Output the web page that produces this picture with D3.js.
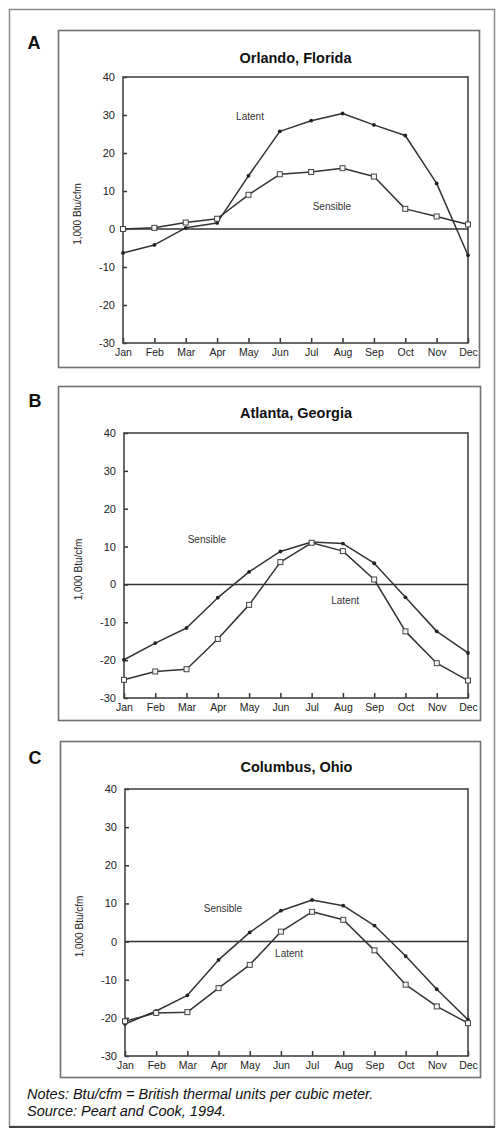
<!DOCTYPE html>
<html>
<head>
<meta charset="utf-8">
<script src="https://cdn.jsdelivr.net/npm/d3@7"></script>
<style>
  html, body { margin: 0; padding: 0; background: #fff; }
  svg { display: block; font-family: "Liberation Sans", Arial, Helvetica, sans-serif; }
</style>
</head>
<body>
<svg id="chart" width="500" height="1130"></svg>
<script>
// ---- Data ----
const months = ["Jan","Feb","Mar","Apr","May","Jun","Jul","Aug","Sep","Oct","Nov","Dec"];
const yTicks = [-30, -20, -10, 0, 10, 20, 30, 40];

const orlandoLatent   = [-6.3, -4.2, 0.3, 1.6, 14.0, 25.7, 28.5, 30.4, 27.4, 24.6, 12.0, -6.9];
const orlandoSensible = [0.0, 0.3, 1.7, 2.7, 9.0, 14.4, 15.0, 16.0, 13.8, 5.3, 3.3, 1.2];

const atlantaSensible = [-19.9, -15.5, -11.5, -3.5, 3.3, 8.7, 11.2, 10.8, 5.6, -3.4, -12.4, -18.1];
const atlantaLatent   = [-25.2, -23.0, -22.4, -14.4, -5.4, 5.9, 11.0, 8.8, 1.3, -12.4, -20.8, -25.4];

const columbusSensible = [-21.6, -18.2, -14.1, -4.8, 2.4, 8.1, 10.9, 9.4, 4.2, -3.8, -12.5, -20.5];
const columbusLatent   = [-20.9, -18.7, -18.5, -12.2, -6.1, 2.6, 7.8, 5.7, -2.3, -11.3, -17.0, -21.4];

const panelLetters = ["A", "B", "C"];
const panelTitles = ["Orlando, Florida", "Atlanta, Georgia", "Columbus, Ohio"];
const yAxisTitle = "1,000 Btu/cfm";
const notesText = "Notes: Btu/cfm = British thermal units per cubic meter.";
const sourceText = "Source: Peart and Cook, 1994.";

// ---- Layout ----
const panels = [
  { box: [58, 30, 479, 367], plot: [123, 77, 468, 343], titleY: 58, letter: [34, 43],
    series: [
      { name: "Latent", values: orlandoLatent, marker: "dot", label: [4.05, 29.7] },
      { name: "Sensible", values: orlandoSensible, marker: "square", label: [6.66, 6.0] }
    ] },
  { box: [58, 386, 480, 720], plot: [124, 433, 468, 698], titleY: 413, letter: [35, 401],
    series: [
      { name: "Sensible", values: atlantaSensible, marker: "dot", label: [2.65, 11.8] },
      { name: "Latent", values: atlantaLatent, marker: "square", label: [7.07, -4.3] }
    ] },
  { box: [60, 741, 480, 1077], plot: [125, 789, 468, 1056], titleY: 767, letter: [35, 758],
    series: [
      { name: "Sensible", values: columbusSensible, marker: "dot", label: [3.14, 8.6] },
      { name: "Latent", values: columbusLatent, marker: "square", label: [5.26, -3.0] }
    ] }
];

const svg = d3.select("#chart");

// outer frame
svg.append("rect").attr("x", 9.5).attr("y", 9.5).attr("width", 485).attr("height", 1117)
  .attr("fill", "none").attr("stroke", "#8a8a8a").attr("stroke-width", 1.5);
svg.append("line").attr("x1", 9).attr("x2", 495).attr("y1", 1127).attr("y2", 1127)
  .attr("stroke", "#444").attr("stroke-width", 2);

panels.forEach((p, pi) => {
  const [bx0, by0, bx1, by1] = p.box;
  const [px0, py0, px1, py1] = p.plot;

  svg.append("rect").attr("x", bx0 + 0.5).attr("y", by0 + 0.5)
    .attr("width", bx1 - bx0).attr("height", by1 - by0)
    .attr("fill", "none").attr("stroke", "#707070").attr("stroke-width", 1.6);

  svg.append("text").attr("x", p.letter[0]).attr("y", p.letter[1])
    .attr("text-anchor", "middle").attr("dy", "0.36em")
    .attr("font-size", 18).attr("font-weight", "bold").attr("fill", "#111")
    .text(panelLetters[pi]);

  const x = d3.scalePoint().domain(months).range([px0, px1]);
  const xi = d3.scaleLinear().domain([0, months.length - 1]).range([px0, px1]);
  const y = d3.scaleLinear().domain([-30, 40]).range([py1, py0]);

  svg.append("text").attr("x", (px0 + px1) / 2).attr("y", p.titleY)
    .attr("text-anchor", "middle").attr("dy", "0.36em")
    .attr("font-size", 14.5).attr("font-weight", "bold").attr("fill", "#111")
    .text(panelTitles[pi]);

  // y axis
  const gy = svg.append("g").attr("transform", `translate(${px0},0)`)
    .call(d3.axisLeft(y).tickValues(yTicks).tickSizeInner(-4).tickSizeOuter(0).tickPadding(8)
      .tickFormat(d => String(d)));
  gy.select(".domain").remove();
  gy.selectAll("line").attr("stroke", "#333").attr("stroke-width", 1.5);
  gy.selectAll("text").attr("font-size", 11).attr("fill", "#222")
    .attr("font-family", "'Liberation Sans', Arial, sans-serif");

  // x axis
  const gx = svg.append("g").attr("transform", `translate(0,${py1})`)
    .call(d3.axisBottom(x).tickSizeInner(-5).tickSizeOuter(0).tickPadding(6));
  gx.select(".domain").remove();
  gx.selectAll("line").attr("stroke", "#333").attr("stroke-width", 1.5);
  gx.selectAll("text").attr("font-size", 10.5).attr("fill", "#222")
    .attr("font-family", "'Liberation Sans', Arial, sans-serif");

  // plot frame
  svg.append("rect").attr("x", px0).attr("y", py0).attr("width", px1 - px0).attr("height", py1 - py0)
    .attr("fill", "none").attr("stroke", "#444").attr("stroke-width", 1.6);

  // zero line
  svg.append("line").attr("x1", px0).attr("x2", px1).attr("y1", y(0)).attr("y2", y(0))
    .attr("stroke", "#333").attr("stroke-width", 1.4);

  // y axis title
  svg.append("text")
    .attr("transform", `translate(${px0 - 46},${(py0 + py1) / 2 + 4}) rotate(-90)`)
    .attr("text-anchor", "middle").attr("dy", "0.35em")
    .attr("font-size", 10).attr("fill", "#222")
    .text(yAxisTitle);

  const line = d3.line().x((d, i) => x(months[i])).y(d => y(d));

  p.series.forEach(s => {
    svg.append("path").datum(s.values).attr("d", line)
      .attr("fill", "none").attr("stroke", "#333").attr("stroke-width", 1.5)
      .attr("stroke-linejoin", "round");
    if (s.marker === "dot") {
      svg.append("g").selectAll("circle").data(s.values).join("circle")
        .attr("cx", (d, i) => x(months[i])).attr("cy", d => y(d)).attr("r", 1.9)
        .attr("fill", "#222");
    } else {
      svg.append("g").selectAll("rect").data(s.values).join("rect")
        .attr("x", (d, i) => x(months[i]) - 2.5).attr("y", d => y(d) - 2.5)
        .attr("width", 5).attr("height", 5)
        .attr("fill", "#f4f4f4").attr("stroke", "#444").attr("stroke-width", 1);
    }
    svg.append("text").attr("x", xi(s.label[0])).attr("y", y(s.label[1]))
      .attr("text-anchor", "middle").attr("dy", "0.35em")
      .attr("font-size", 10).attr("fill", "#333")
      .text(s.name);
  });
});

// notes
svg.append("text").attr("x", 27).attr("y", 1094).attr("dy", "0.35em")
  .attr("font-size", 14.5).attr("font-style", "italic").attr("fill", "#111")
  .text(notesText);
svg.append("text").attr("x", 27).attr("y", 1111).attr("dy", "0.35em")
  .attr("font-size", 14.5).attr("font-style", "italic").attr("fill", "#111")
  .text(sourceText);
</script>
</body>
</html>
